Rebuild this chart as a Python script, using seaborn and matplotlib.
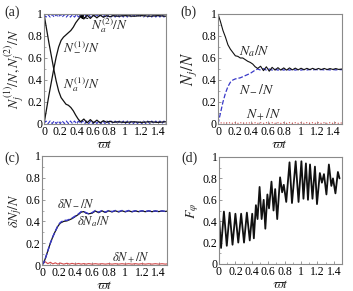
import numpy as np
import pandas as pd
import matplotlib.pyplot as plt
import seaborn as sns
from matplotlib.ticker import MultipleLocator, FormatStrFormatter

sns.set_theme(style='ticks')
plt.rcParams['font.family'] = ['Liberation Serif', 'DejaVu Serif']
plt.rcParams['mathtext.fontset'] = 'stix'

# ---- panel (a) ----
t_a = [0, 0.03, 0.06, 0.09, 0.12, 0.15, 0.18, 0.21, 0.24, 0.27, 0.30, 0.33, 0.36, 0.39, 0.42, 0.45,
       0.49, 0.53, 0.57, 0.61, 0.65, 0.69, 0.73, 0.77, 0.81, 0.85,
       0.9, 1.0, 1.1, 1.2, 1.3, 1.4, 1.5]
n_minus_1 = [0, 0.13, 0.26, 0.38, 0.5, 0.61, 0.70, 0.76, 0.79, 0.81, 0.83, 0.85, 0.88, 0.92, 0.95, 0.975,
             0.955, 0.99, 0.96, 0.99, 0.965, 0.99, 0.97, 0.985, 0.975, 0.985,
             0.98, 0.985, 0.98, 0.985, 0.98, 0.985, 0.98]
n_a_1 = [1, 0.87, 0.74, 0.62, 0.5, 0.39, 0.30, 0.24, 0.21, 0.18, 0.17, 0.15, 0.12, 0.08, 0.045, 0.02,
         0.045, 0.01, 0.04, 0.01, 0.035, 0.01, 0.03, 0.015, 0.025, 0.015,
         0.02, 0.015, 0.02, 0.015, 0.02, 0.015, 0.02]
t_wave = [0.0, 0.025, 0.05, 0.075, 0.1, 0.125, 0.15, 0.175, 0.2, 0.225, 0.25, 0.275, 0.3, 0.325, 0.35,
          0.375, 0.4, 0.425, 0.45, 0.475, 0.5, 0.525, 0.55, 0.575, 0.6, 0.625, 0.65, 0.675, 0.7, 0.725,
          0.75, 0.775, 0.8, 0.825, 0.85, 0.875, 0.9, 0.925, 0.95, 0.975, 1.0, 1.025, 1.05, 1.075, 1.1,
          1.125, 1.15, 1.175, 1.2, 1.225, 1.25, 1.275, 1.3, 1.325, 1.35, 1.375, 1.4, 1.425, 1.45, 1.475, 1.5]
n_a_2 = [0.995, 0.972, 0.995, 0.972, 0.995, 0.972, 0.995, 0.972, 0.995, 0.972, 0.995, 0.972, 0.995, 0.972, 0.995,
         0.972, 0.995, 0.972, 0.995, 0.972, 0.995, 0.972, 0.995, 0.972, 0.995, 0.972, 0.995, 0.972, 0.995, 0.972,
         0.995, 0.972, 0.995, 0.972, 0.995, 0.972, 0.995, 0.972, 0.995, 0.972, 0.995, 0.972, 0.995, 0.972, 0.995,
         0.972, 0.995, 0.972, 0.995, 0.972, 0.995, 0.972, 0.995, 0.972, 0.995, 0.972, 0.995, 0.972, 0.995, 0.972, 0.995]
n_minus_2 = [0.004, 0.027, 0.004, 0.027, 0.004, 0.027, 0.004, 0.027, 0.004, 0.027, 0.004, 0.027, 0.004, 0.027, 0.004,
             0.027, 0.004, 0.027, 0.004, 0.027, 0.004, 0.027, 0.004, 0.027, 0.004, 0.027, 0.004, 0.027, 0.004, 0.027,
             0.004, 0.027, 0.004, 0.027, 0.004, 0.027, 0.004, 0.027, 0.004, 0.027, 0.004, 0.027, 0.004, 0.027, 0.004,
             0.027, 0.004, 0.027, 0.004, 0.027, 0.004, 0.027, 0.004, 0.027, 0.004, 0.027, 0.004, 0.027, 0.004, 0.027, 0.004]

# ---- panel (b) ----
t_b = [0, 0.03, 0.06, 0.09, 0.12, 0.15, 0.18, 0.21, 0.24, 0.27, 0.30, 0.33, 0.36, 0.39, 0.42, 0.45, 0.48,
       0.515, 0.55, 0.585, 0.62, 0.655, 0.69, 0.725, 0.76, 0.795, 0.83, 0.865, 0.9, 0.935, 0.97,
       1.005, 1.04, 1.075, 1.11, 1.145, 1.18, 1.215, 1.25, 1.285, 1.32, 1.355, 1.39, 1.425, 1.46, 1.5]
n_a_b = [1.0, 0.93, 0.85, 0.79, 0.72, 0.68, 0.65, 0.62, 0.615, 0.60, 0.60, 0.585, 0.57, 0.56, 0.545, 0.52, 0.505,
         0.525, 0.485, 0.52, 0.48, 0.515, 0.49, 0.512, 0.49, 0.51, 0.49, 0.51, 0.492, 0.508, 0.492,
         0.507, 0.493, 0.506, 0.494, 0.506, 0.494, 0.505, 0.495, 0.505, 0.495, 0.504, 0.496, 0.504, 0.496, 0.5]
n_minus_b = [0.0, 0.1, 0.2, 0.28, 0.34, 0.38, 0.40, 0.41, 0.415, 0.42, 0.43, 0.44, 0.45, 0.46, 0.475, 0.49, 0.5,
             0.49, 0.503, 0.49, 0.5, 0.49, 0.498, 0.49, 0.498, 0.49, 0.497, 0.49, 0.497, 0.49, 0.496,
             0.49, 0.496, 0.491, 0.496, 0.491, 0.496, 0.491, 0.495, 0.492, 0.495, 0.492, 0.495, 0.492, 0.495, 0.494]
n_plus_b = [0.0, 0.012, 0.006, 0.014, 0.006, 0.013, 0.006, 0.013, 0.006, 0.012, 0.006, 0.012, 0.006, 0.012, 0.006, 0.012, 0.006,
            0.012, 0.006, 0.012, 0.006, 0.012, 0.006, 0.012, 0.006, 0.012, 0.006, 0.012, 0.006, 0.012, 0.006,
            0.012, 0.006, 0.012, 0.006, 0.012, 0.006, 0.012, 0.006, 0.012, 0.006, 0.012, 0.006, 0.012, 0.006, 0.01]

# ---- panel (c) ----
t_c = [0, 0.02, 0.04, 0.07, 0.10, 0.13, 0.16, 0.19, 0.22, 0.26, 0.30, 0.33, 0.36, 0.40, 0.44, 0.47, 0.50,
       0.53, 0.56, 0.60, 0.64, 0.68, 0.72, 0.76, 0.80, 0.84, 0.88, 0.92, 0.96, 1.00, 1.04, 1.08, 1.12,
       1.16, 1.20, 1.24, 1.28, 1.32, 1.36, 1.40, 1.44, 1.48, 1.5]
dn_minus_c = [0, 0.02, 0.06, 0.13, 0.20, 0.26, 0.31, 0.36, 0.39, 0.41, 0.41, 0.42, 0.43, 0.45, 0.47, 0.49, 0.49,
              0.48, 0.47, 0.48, 0.50, 0.485, 0.5, 0.485, 0.5, 0.49, 0.5, 0.49, 0.5, 0.49, 0.5, 0.49, 0.498,
              0.49, 0.498, 0.49, 0.498, 0.49, 0.497, 0.49, 0.497, 0.492, 0.495]
dn_a_c = [0, 0.02, 0.06, 0.13, 0.20, 0.26, 0.31, 0.355, 0.385, 0.40, 0.405, 0.415, 0.425, 0.445, 0.465, 0.485, 0.49,
          0.475, 0.47, 0.475, 0.495, 0.48, 0.497, 0.482, 0.497, 0.487, 0.497, 0.487, 0.497, 0.488, 0.497, 0.488, 0.496,
          0.489, 0.496, 0.489, 0.496, 0.489, 0.495, 0.49, 0.495, 0.491, 0.494]
dn_plus_c = [0, 0.02, 0.03, 0.012, 0.025, 0.01, 0.02, 0.008, 0.018, 0.008, 0.016, 0.008, 0.015, 0.008, 0.014, 0.008, 0.013,
             0.008, 0.013, 0.008, 0.012, 0.008, 0.012, 0.008, 0.012, 0.008, 0.012, 0.008, 0.012, 0.008, 0.012, 0.008, 0.012,
             0.008, 0.012, 0.008, 0.012, 0.008, 0.012, 0.008, 0.012, 0.008, 0.01]

# ---- panel (d) ----
t_d = [0, 0.025, 0.06, 0.095, 0.13, 0.165, 0.2, 0.235, 0.27, 0.305, 0.34, 0.375, 0.405, 0.425,
       0.45, 0.47, 0.495, 0.52, 0.545, 0.565, 0.59, 0.61, 0.64, 0.665, 0.685, 0.71, 0.745, 0.77, 0.79,
       0.82, 0.86, 0.89, 0.935, 0.97, 1.005, 1.03, 1.06, 1.085, 1.11, 1.14, 1.17, 1.195, 1.23, 1.255,
       1.28, 1.31, 1.34, 1.37, 1.39, 1.42, 1.45, 1.47]
f_phi = [0.45, 0.15, 0.49, 0.17, 0.48, 0.18, 0.47, 0.20, 0.47, 0.20, 0.48, 0.22, 0.47, 0.24,
         0.55, 0.42, 0.72, 0.42, 0.60, 0.33, 0.65, 0.52, 0.77, 0.50, 0.70, 0.42, 0.81, 0.67, 0.74,
         0.58, 0.95, 0.57, 0.96, 0.58, 0.96, 0.61, 0.94, 0.60, 0.93, 0.61, 0.91, 0.56, 0.85, 0.76,
         0.84, 0.65, 0.93, 0.73, 0.80, 0.66, 0.86, 0.80]

BLACK = '#111111'
BLUE = '#3838c8'
RED = '#d24a4a'
SPINE = '#8a8a8a'


def style_axis(ax):
    ax.set_xlim(0, 1.5)
    ax.set_ylim(0, 1)
    ax.xaxis.set_major_locator(MultipleLocator(0.2))
    ax.xaxis.set_minor_locator(MultipleLocator(0.1))
    ax.yaxis.set_major_locator(MultipleLocator(0.2))
    ax.yaxis.set_minor_locator(MultipleLocator(0.1))
    ax.xaxis.set_major_formatter(FormatStrFormatter('%g'))
    ax.yaxis.set_major_formatter(FormatStrFormatter('%g'))
    ax.tick_params(which='major', direction='in', length=2.5, width=0.6, labelsize=8.5, pad=1.2,
                   color=SPINE, labelcolor='black')
    ax.tick_params(which='minor', direction='in', length=1.5, width=0.5, color=SPINE)
    for s in ax.spines.values():
        s.set_color(SPINE)
        s.set_linewidth(0.8)
    ax.set_xlabel(r'$\varpi t$', fontsize=10, labelpad=0)


fig = plt.figure(figsize=(3.53, 2.91), dpi=100)
W, H = 353, 291


def make_axes(left, top, right, bottom):
    return fig.add_axes([left / W, 1 - bottom / H, (right - left) / W, (bottom - top) / H])


ax_a = make_axes(44, 14, 166, 124)
ax_b = make_axes(218, 14, 342, 124)
ax_c = make_axes(42, 156, 167, 265)
ax_d = make_axes(219, 157, 342, 264)

# (a)
sns.lineplot(x=t_wave, y=n_a_2, ax=ax_a, color=BLUE, linewidth=0.8, linestyle='--')
sns.lineplot(x=t_wave, y=n_minus_2, ax=ax_a, color=BLUE, linewidth=0.8, linestyle='--')
sns.lineplot(x=t_a, y=n_minus_1, ax=ax_a, color=BLACK, linewidth=0.9)
sns.lineplot(x=t_a, y=n_a_1, ax=ax_a, color=BLACK, linewidth=0.9)
style_axis(ax_a)
ax_a.set_ylabel(r'$N_j^{(1)}/N, N_j^{(2)}/N$', fontsize=10, labelpad=1)
ax_a.annotate(r'$N_a^{(2)}/N$', xy=(0.43, 0.985), xytext=(0.58, 0.89), fontsize=9.5, va='center',
              arrowprops=dict(arrowstyle='-|>', color='black', lw=0.6, mutation_scale=6,
                              shrinkA=0, shrinkB=0))
ax_a.text(0.23, 0.70, r'$N_-^{(1)}/N$', fontsize=9.5, va='center')
ax_a.text(0.23, 0.36, r'$N_a^{(1)}/N$', fontsize=9.5, va='center')

# (b)
sns.lineplot(x=t_b, y=n_plus_b, ax=ax_b, color=RED, linewidth=0.8, linestyle=':')
sns.lineplot(x=t_b, y=n_minus_b, ax=ax_b, color=BLUE, linewidth=0.9, linestyle='--')
sns.lineplot(x=t_b, y=n_a_b, ax=ax_b, color=BLACK, linewidth=0.8)
style_axis(ax_b)
ax_b.set_ylabel(r'$N_j/N$', fontsize=12, labelpad=2)
ax_b.text(0.25, 0.66, r'$N_a/N$', fontsize=10, va='center')
ax_b.text(0.25, 0.31, r'$N_-/N$', fontsize=10, va='center')
ax_b.text(0.34, 0.08, r'$N_+/N$', fontsize=10, va='center')

# (c)
sns.lineplot(x=t_c, y=dn_plus_c, ax=ax_c, color=RED, linewidth=0.8)
sns.lineplot(x=t_c, y=dn_a_c, ax=ax_c, color=BLACK, linewidth=0.9)
sns.lineplot(x=t_c, y=dn_minus_c, ax=ax_c, color=BLUE, linewidth=1.0, linestyle='--')
style_axis(ax_c)
ax_c.set_ylabel(r'$\delta N_j/N$', fontsize=10, labelpad=1)
ax_c.text(0.18, 0.56, r'$\delta N_-/N$', fontsize=9, va='center')
ax_c.text(0.42, 0.40, r'$\delta N_a/N$', fontsize=9, va='center')
ax_c.text(0.84, 0.07, r'$\delta N_+/N$', fontsize=9, va='center')

# (d)
sns.lineplot(x=t_d, y=f_phi, ax=ax_d, color=BLACK, linewidth=1.3)
style_axis(ax_d)
ax_d.set_ylabel(r'$F_\varphi$', fontsize=10, labelpad=1)

for lab, x, y in [('(a)', 4, 12), ('(b)', 180, 12), ('(c)', 4, 158), ('(d)', 181, 158)]:
    fig.text(x / W, 1 - y / H, lab, fontsize=10, va='center', ha='left')

fig.savefig('out.png', dpi=100)
